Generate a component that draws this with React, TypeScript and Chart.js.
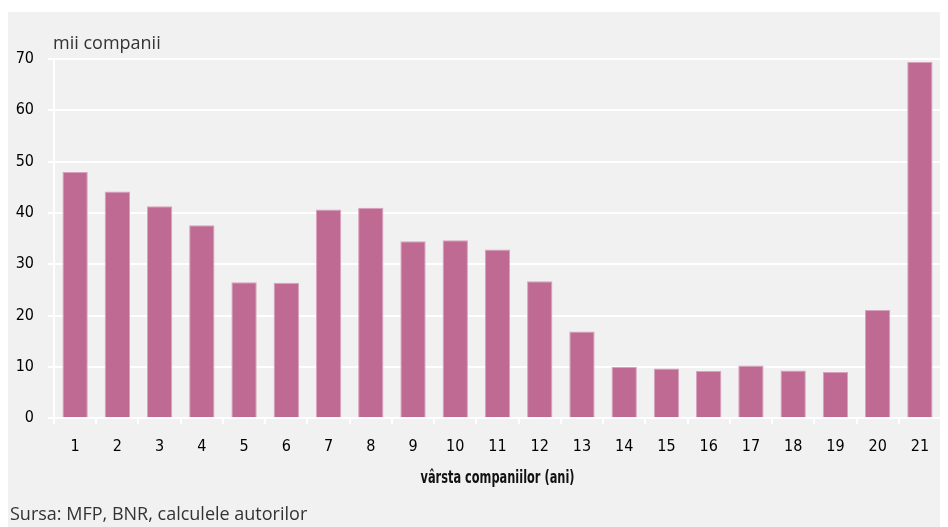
import React, { useEffect, useRef } from "react";
import { Chart, registerables } from "chart.js";

Chart.register(...registerables);

// Company age in years (categories) and number of companies (thousands)
const ages = ["1", "2", "3", "4", "5", "6", "7", "8", "9", "10", "11", "12", "13", "14", "15", "16", "17", "18", "19", "20", "21"];
const companies = [48.0, 44.2, 41.3, 37.6, 26.5, 26.4, 40.7, 41.0, 34.5, 34.7, 32.9, 26.7, 16.9, 10.0, 9.7, 9.2, 10.3, 9.3, 9.0, 21.1, 69.4];
const yTicks = [0, 10, 20, 30, 40, 50, 60, 70];

const unitLabel = "mii companii";
const xTitle = "vârsta companiilor (ani)";
const sourceNote = "Sursa: MFP, BNR, calculele autorilor";

const BG = "#f1f1f1";
const BAR = "#be6a93";
const BAR_EDGE = "#d8a2bc";
const TICK_FONT = '"DejaVu Sans Condensed", "DejaVu Sans", sans-serif';
const TEXT_FONT = '"Open Sans", "Noto Sans", sans-serif';

const textPlugin = {
  id: "extraText",
  afterDraw(chart: any) {
    const ctx = chart.ctx;
    const area = chart.chartArea;
    ctx.save();
    ctx.textBaseline = "middle";
    ctx.fillStyle = "#333333";
    ctx.font = `18px ${TEXT_FONT}`;
    ctx.textAlign = "left";
    ctx.fillText(unitLabel, area.left - 1, 32);

    // axis title, set narrow like a condensed face
    ctx.fillStyle = "#111111";
    ctx.font = `bold 18px ${TICK_FONT}`;
    ctx.textAlign = "center";
    ctx.fillText(xTitle, (area.left + area.right) / 2, 466, 154);

    ctx.fillStyle = "#333333";
    ctx.font = `18px ${TEXT_FONT}`;
    ctx.textAlign = "left";
    ctx.fillText(sourceNote, 2, 503);
    ctx.restore();
  },
};

export default function App() {
  const canvasRef = useRef<HTMLCanvasElement | null>(null);

  useEffect(() => {
    if (!canvasRef.current) return;
    const chart = new Chart(canvasRef.current, {
      type: "bar",
      data: {
        labels: ages,
        datasets: [
          {
            data: companies,
            backgroundColor: BAR,
            borderColor: BAR_EDGE,
            borderWidth: 1,
            barPercentage: 0.6,
            categoryPercentage: 1,
          },
        ],
      },
      options: {
        animation: false,
        responsive: false,
        layout: { padding: { top: 47, right: 7, bottom: 0, left: 0 } },
        plugins: {
          legend: { display: false },
          tooltip: { enabled: false },
        },
        scales: {
          x: {
            afterFit: (scale: any) => {
              scale.height = 108.7;
            },
            grid: {
              drawOnChartArea: false,
              drawTicks: true,
              tickLength: 6,
              color: "#ffffff",
              lineWidth: 2,
            },
            border: { display: true, color: "#ffffff", width: 2 },
            ticks: {
              color: "#000000",
              padding: 13,
              font: { family: TICK_FONT, size: 16 },
            },
          },
          y: {
            min: 0,
            max: 70,
            afterFit: (scale: any) => {
              scale.width = 46;
            },
            afterBuildTicks: (scale: any) => {
              scale.ticks = yTicks.map((v) => ({ value: v }));
            },
            grid: {
              color: "#ffffff",
              lineWidth: 2,
              drawTicks: true,
              tickLength: 6,
            },
            border: { display: true, color: "#ffffff", width: 2 },
            ticks: {
              color: "#000000",
              padding: 14,
              font: { family: TICK_FONT, size: 16 },
            },
          },
        },
      },
      plugins: [textPlugin],
    });
    return () => chart.destroy();
  }, []);

  return (
    <div style={{ marginTop: 4, width: 940, height: 515, background: BG }}>
      <canvas ref={canvasRef} width={940} height={515} style={{ display: "block" }} />
    </div>
  );
}
